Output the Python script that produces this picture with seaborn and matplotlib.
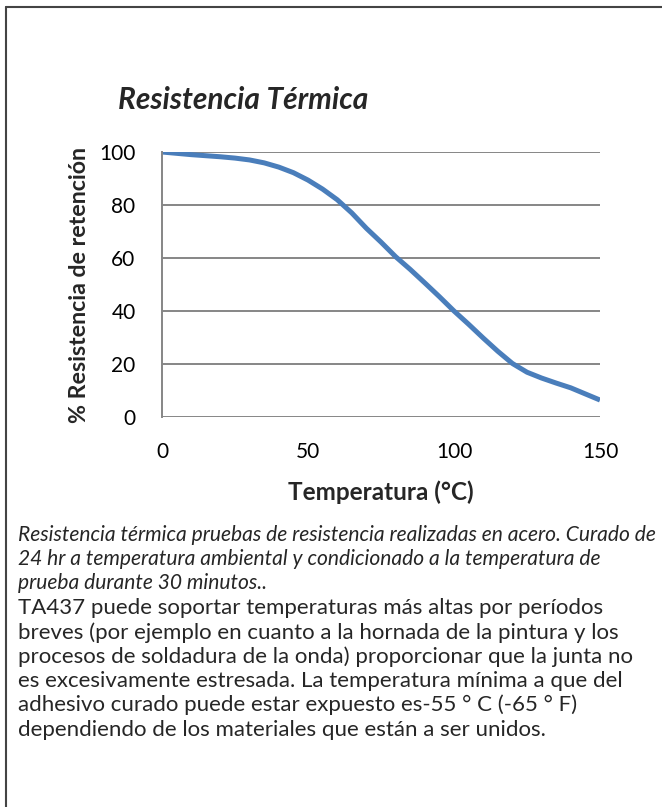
import numpy as np
import pandas as pd
import seaborn as sns
import matplotlib.pyplot as plt
from matplotlib.lines import Line2D

# data
temperatura = [0, 5, 10, 15, 20, 25, 30, 35, 40, 45, 50, 55, 60, 65, 70, 75,
               80, 85, 90, 95, 100, 105, 110, 115, 120, 125, 130, 135, 140, 145, 150]
retencion = [100, 99.5, 99, 98.6, 98.2, 97.7, 97, 95.9, 94.3, 92.2, 89.4, 86, 82, 77, 71.2, 66,
             60.5, 55.7, 50.6, 45.4, 40, 35, 29.8, 24.8, 20.2, 16.9, 14.7, 12.8, 11, 8.7, 6.4]
x_ticks = [0, 50, 100, 150]
y_ticks = [0, 20, 40, 60, 80, 100]

titulo = "Resistencia Térmica"
x_label = "Temperatura (°C)"
y_label = "% Resistencia de retención"

nota = [
    "Resistencia térmica pruebas de resistencia realizadas en acero. Curado de",
    "24 hr a temperatura ambiental y condicionado a la temperatura de",
    "prueba durante 30 minutos..",
]
texto = [
    "TA437 puede soportar temperaturas más altas por períodos",
    "breves (por ejemplo en cuanto a la hornada de la pintura y los",
    "procesos de soldadura de la onda) proporcionar que la junta no",
    "es excesivamente estresada. La temperatura mínima a que del",
    "adhesivo curado puede estar expuesto es-55 ° C (-65 ° F)",
    "dependiendo de los materiales que están a ser unidos.",
]

df = pd.DataFrame({"Temperatura": temperatura, "Retencion": retencion})

sns.set_style("white")
plt.rcParams["font.family"] = ["Lato", "DejaVu Sans"]

W, H = 662, 807
fig = plt.figure(figsize=(W / 100, H / 100), dpi=100)
ax = fig.add_axes([162 / W, 1 - 417 / H, 438 / W, 265 / H])

sns.lineplot(data=df, x="Temperatura", y="Retencion", ax=ax,
             color="#4A7EBB", linewidth=3.6, solid_capstyle="butt")

ax.set_xlim(0, 150)
ax.set_ylim(0, 100)
ax.set_xticks(x_ticks)
ax.set_yticks(y_ticks)
ax.tick_params(axis="both", length=0, labelsize=15, colors="black")
ax.tick_params(axis="x", pad=18)
ax.tick_params(axis="y", pad=19)
ax.grid(axis="y", color="#868686", linewidth=1.4)
ax.set_axisbelow(True)
for s in ["top", "right", "bottom"]:
    ax.spines[s].set_visible(False)
ax.spines["left"].set_color("#868686")
ax.spines["left"].set_linewidth(1.4)
ax.set_xlabel("")
ax.set_ylabel("")

# labels and title
fig.text(381 / W, 1 - 492 / H, x_label, ha="center", va="center",
         fontsize=17.5, fontweight="bold")
fig.text(80 / W, 1 - 285 / H, y_label, ha="center", va="center",
         rotation=90, fontsize=16.7, fontweight="bold")
fig.text(118 / W, 1 - 100 / H, titulo, ha="left", va="center",
         fontsize=21.5, fontweight="bold", fontstyle="italic")

# caption
x0 = 18
for i, line in enumerate(nota):
    fig.text(x0 / W, 1 - (535 + 24.2 * i) / H, line, ha="left", va="center",
             fontsize=15.1, fontstyle="italic")
for i, line in enumerate(texto):
    fig.text(x0 / W, 1 - (608 + 24.3 * i) / H, line, ha="left", va="center",
             fontsize=16.0)

# frame lines (top and left only)
fig.add_artist(Line2D([6 / W, 6 / W], [0, 1 - 7 / H], transform=fig.transFigure,
                      color="#444444", linewidth=1.5))
fig.add_artist(Line2D([6 / W, 1], [1 - 7 / H, 1 - 7 / H], transform=fig.transFigure,
                      color="#444444", linewidth=1.5))

fig.savefig("out.png", dpi=100)
